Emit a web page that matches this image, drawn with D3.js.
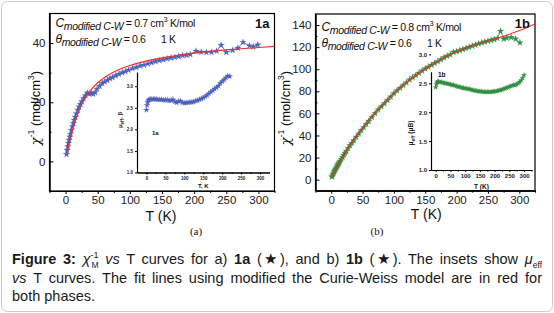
<!DOCTYPE html>
<html>
<head>
<meta charset="utf-8">
<script src="https://cdn.jsdelivr.net/npm/d3@7"></script>
<style>
body { margin: 0; background: #fff; }
#wrap { position: relative; width: 554px; height: 313px; overflow: hidden; font-family: "Liberation Sans", Arial, sans-serif; }
#wrap svg { position: absolute; left: 0; top: 0; }
#caption { position: absolute; left: 12px; top: 250px; width: 530px; font-size: 14.5px; line-height: 18.6px; color: #1a1a1a; }
#caption .j { text-align: justify; text-align-last: justify; white-space: nowrap; height: 18.6px; }
#caption .up { position: relative; top: -6px; font-size: 9px; line-height: 0; }
#caption .dn { position: relative; top: 4px; font-size: 8.5px; line-height: 0; }
</style>
</head>
<body>
<div id="wrap"></div>
<script>
// panel (a) : chi^-1 vs T, stars
var tA = [1.5, 2.5, 3.5, 4.5, 5.5, 6.5, 7.5, 9, 10.5, 12, 13.5, 15, 17, 19, 21, 23, 25, 28, 31, 34, 37, 40, 43, 46, 49,
  53, 57, 61, 65, 69, 73, 78, 83, 88, 93, 98, 104, 110, 116, 122, 128, 134, 140, 146, 152, 158, 164, 170, 176, 182,
  188, 194, 203, 211, 219, 227, 235, 242, 250, 260, 268, 276, 286, 292, 299];
var chiA = [2.4, 3.8, 5, 6.2, 7.2, 8.3, 9.2, 10.5, 11.8, 12.9, 14, 15, 16.2, 17.4, 18.5, 19.3, 20.2, 21.3, 22.3, 23.2,
  22.9, 23, 22.8, 23.3, 24.5, 25.5, 26.4, 26.9, 27.4, 28, 28.4, 29, 29.5, 30, 30.4, 30.9, 31.4, 31.8, 32.3, 32.6, 33,
  33.4, 33.8, 34.1, 34.4, 34.7, 35, 35.2, 35.5, 35.8, 35.9, 36.2, 37.3, 37, 36.9, 36.9, 37.3, 39.3, 36.9, 37.6, 38.3,
  40.3, 39.1, 38.8, 39.4];
// red fit line (a)
var fitTA = [2, 5, 10, 15, 20, 30, 40, 50, 60, 75, 100, 125, 150, 175, 200, 250, 300, 325];
var fitA = [2, 5.8, 10.2, 13.8, 16.8, 21.3, 24.3, 26.6, 28.3, 30.2, 32.4, 33.9, 35, 35.9, 36.6, 37.7, 38.5, 38.9];
// inset (a) : mu_eff vs T
var insTA = [0, 1.5, 3, 5, 7, 10, 14, 18, 22, 26, 30, 35, 40, 45, 50, 55, 60, 65, 70, 75, 80, 85, 90, 95, 100, 105,
  110, 115, 120, 125, 130, 135, 140, 145, 150, 155, 160, 165, 170, 175, 180, 185, 190, 195, 200, 205, 210, 215, 220];
var muA = [2.45, 2.56, 2.63, 2.67, 2.69, 2.7, 2.7, 2.7, 2.7, 2.7, 2.69, 2.69, 2.69, 2.68, 2.68, 2.68, 2.67, 2.67, 2.69,
  2.64, 2.62, 2.65, 2.66, 2.62, 2.61, 2.62, 2.62, 2.63, 2.63, 2.64, 2.66, 2.67, 2.69, 2.71, 2.73, 2.76, 2.79, 2.83,
  2.87, 2.9, 2.94, 2.97, 3.01, 3.07, 3.11, 3.15, 3.2, 3.24, 3.23];

// panel (b)
var tB = [1, 2, 3, 4, 5, 6, 7, 8, 9, 10, 11, 12, 13, 14, 16, 18, 20, 22, 24, 27, 30, 33, 36, 40, 44, 48, 52, 56, 60,
  65, 70, 75, 80, 85, 90, 95, 100, 105, 110, 115, 120, 125, 130, 135, 140, 145, 150, 155, 160, 165, 170, 175, 180,
  185, 190, 195, 200, 205, 210, 215, 220, 225, 230, 235, 240, 245, 250, 255, 260, 265, 270, 275, 280, 287, 294, 301];
var chiB = [2.5, 3.5, 5, 6.3, 7.5, 8.5, 9.6, 10.6, 11.6, 12.7, 13.6, 14.6, 15.5, 16.6, 18.4, 20.3, 22.2, 24, 25.6,
  28.4, 31, 33, 35.4, 38.6, 41.6, 44.6, 47.5, 50.3, 53, 56.5, 60, 63.3, 66.2, 69, 72, 75, 78, 80.6, 83, 85.5, 88,
  90.5, 92.5, 94.5, 96.5, 98.6, 100.5, 102, 103.8, 105.5, 107, 108.8, 110.5, 112, 113.2, 115.5, 116, 117, 118, 119,
  120, 121, 122, 123, 124, 124.8, 125.6, 126.3, 127, 128, 134.5, 127.5, 128.3, 128.8, 127.5, 124];
var fitTB = [0, 10, 25, 50, 75, 100, 125, 150, 175, 200, 225, 250, 270, 300, 325];
var fitB = [2, 12, 27.5, 47, 64, 78.5, 90.5, 100.5, 109, 116, 121.5, 126, 129, 135, 141];
var insTB = [0, 2, 4, 7, 10, 15, 20, 25, 30, 35, 40, 45, 50, 55, 60, 65, 70, 75, 80, 85, 90, 95, 100, 105, 110, 115,
  120, 125, 130, 135, 140, 145, 150, 155, 160, 165, 170, 175, 180, 185, 190, 195, 200, 205, 210, 215, 220, 225, 230,
  235, 240, 245, 250, 255, 260, 265, 270, 275, 280, 285, 290, 295, 300];
var muB = [2.43, 2.48, 2.51, 2.53, 2.53, 2.52, 2.52, 2.51, 2.5, 2.5, 2.49, 2.49, 2.48, 2.47, 2.47, 2.46, 2.45, 2.44,
  2.44, 2.43, 2.42, 2.42, 2.41, 2.41, 2.4, 2.4, 2.39, 2.38, 2.38, 2.37, 2.37, 2.36, 2.36, 2.36, 2.35, 2.35, 2.35,
  2.35, 2.35, 2.35, 2.35, 2.36, 2.36, 2.36, 2.37, 2.38, 2.38, 2.39, 2.4, 2.41, 2.42, 2.43, 2.44, 2.45, 2.46, 2.47,
  2.47, 2.48, 2.5, 2.52, 2.55, 2.59, 2.64];

// tick labels
var xTicks = [0, 50, 100, 150, 200, 250, 300];
var xMinor = [-25, 25, 75, 125, 175, 225, 275, 325];
var yTicksA = [0, 20, 40];
var yTicksB = [0, 20, 40, 60, 80, 100, 120, 140];
var muTicks = [1.0, 1.5, 2.0, 2.5, 3.0];

var blue = "#4a62b8", green = "#2f8f40", red = "#f42a2a";

var svg = d3.select("#wrap").append("svg").attr("width", 554).attr("height", 313);

svg.append("rect")
  .attr("x", 1.5).attr("y", 1.5).attr("width", 551).attr("height", 310).attr("rx", 6)
  .attr("fill", "none").attr("stroke", "#c8c8c8");

function styleAxis(g, fs) {
  g.select(".domain").attr("stroke", "#000");
  g.selectAll(".tick line").attr("stroke", "#000");
  g.selectAll(".tick text").attr("fill", "#222").style("font-size", fs)
    .style("font-family", "'Liberation Sans', Arial, sans-serif");
}

function stars(T, V, x, y, size, color) {
  svg.append("g").selectAll("path")
    .data(d3.zip(T, V))
    .enter()
    .append("path")
    .attr("d", d3.symbol(d3.symbolStar, size))
    .attr("transform", function(d) { return "translate(" + x(d[0]) + "," + y(d[1]) + ")"; })
    .attr("fill", color)
    .attr("stroke", color)
    .attr("stroke-opacity", 0.3)
    .attr("stroke-width", 0.8);
}

function drawMain(p) {
  var x = d3.scaleLinear().domain([-25, 325]).range([p.left, p.right]);
  var y = d3.scaleLinear().domain(p.yDomain).range([p.bottom, p.top]);

  svg.append("rect")
    .attr("x", p.left).attr("y", p.top)
    .attr("width", p.right - p.left).attr("height", p.bottom - p.top)
    .attr("fill", "none").attr("stroke", "#000").attr("stroke-width", 1.2);

  var gx = svg.append("g").attr("transform", "translate(0," + p.bottom + ")")
    .call(d3.axisBottom(x).tickValues(xTicks).tickSize(3).tickSizeOuter(0).tickPadding(2));
  styleAxis(gx, "11.5px");
  var gxm = svg.append("g").attr("transform", "translate(0," + p.bottom + ")")
    .call(d3.axisBottom(x).tickValues(xMinor).tickSize(2).tickSizeOuter(0).tickFormat(""));
  styleAxis(gxm, "11.5px");

  var gy = svg.append("g").attr("transform", "translate(" + p.left + ",0)")
    .call(d3.axisLeft(y).tickValues(p.yTicks).tickSize(-4).tickSizeOuter(0).tickPadding(4));
  styleAxis(gy, "11.5px");
  var gym = svg.append("g").attr("transform", "translate(" + p.left + ",0)")
    .call(d3.axisLeft(y).tickValues(p.yMinor).tickSize(-2).tickSizeOuter(0).tickFormat(""));
  styleAxis(gym, "11.5px");

  // data line + stars + fit
  svg.append("path")
    .datum(d3.zip(p.T, p.V))
    .attr("d", d3.line().x(function(d) { return x(d[0]); }).y(function(d) { return y(d[1]); }))
    .attr("fill", "none").attr("stroke", blue).attr("stroke-width", 0.8);
  stars(p.T, p.V, x, y, 13, p.color);
  svg.append("path")
    .datum(d3.zip(p.fitT, p.fitV))
    .attr("d", d3.line().curve(d3.curveMonotoneX).x(function(d) { return x(d[0]); }).y(function(d) { return y(d[1]); }))
    .attr("fill", "none").attr("stroke", red).attr("stroke-width", 1.1);

  // axis titles
  svg.append("text")
    .attr("x", (p.left + p.right) / 2 + p.titleShift).attr("y", p.titleY)
    .attr("text-anchor", "middle").style("font-size", "14px").attr("fill", "#111")
    .text("T (K)");

  var yt = svg.append("text")
    .attr("transform", "translate(" + p.ytX + "," + p.ytY + ") rotate(-90)")
    .attr("text-anchor", "middle").style("font-size", "13px").attr("fill", "#111");
  yt.append("tspan").style("font-style", "italic").style("font-family", "'DejaVu Serif', serif").text("χ");
  yt.append("tspan").style("font-size", "8.5px").attr("dy", -6).text("-1");
  yt.append("tspan").attr("dy", 6).text(" (mol/cm");
  yt.append("tspan").style("font-size", "8.5px").attr("dy", -6).text("3");
  yt.append("tspan").attr("dy", 6).text(")");

  // panel tag
  svg.append("text")
    .attr("x", p.right - 5).attr("y", p.top + 14)
    .attr("text-anchor", "end").style("font-size", "13px").style("font-weight", "bold").attr("fill", "#111")
    .text(p.tag);

  // fit parameters
  var t1 = svg.append("text").attr("x", p.left + 6).attr("y", p.annY).style("font-size", "10.5px")
    .style("letter-spacing", "-0.35px").attr("fill", "#111");
  t1.append("tspan").style("font-style", "italic").style("font-size", "12px").text("C");
  t1.append("tspan").style("font-style", "italic").attr("dy", 3).text("modified C-W");
  t1.append("tspan").attr("dy", -3).text(" = " + p.cVal + " cm");
  t1.append("tspan").style("font-size", "7.5px").attr("dy", -5).text("3");
  t1.append("tspan").attr("dy", 5).text(" K/mol");

  var t2 = svg.append("text").attr("x", p.left + 6).attr("y", p.annY + 16).style("font-size", "10.5px")
    .style("letter-spacing", "-0.35px").attr("fill", "#111");
  t2.append("tspan").style("font-style", "italic").style("font-size", "12px").text("θ");
  t2.append("tspan").style("font-style", "italic").attr("dy", 3).text("modified C-W");
  t2.append("tspan").attr("dy", -3).attr("xml:space", "preserve").text(" = 0.6      1 K");

  // (a) / (b)
  svg.append("text")
    .attr("x", p.subX).attr("y", 235)
    .attr("text-anchor", "middle").style("font-size", "11px")
    .style("font-family", "'Liberation Serif', 'Times New Roman', serif").attr("fill", "#111")
    .text(p.sub);
}

function drawInset(p) {
  var x = d3.scaleLinear().domain(p.xDomain).range([p.left, p.right]);
  var y = d3.scaleLinear().domain(p.yDomain).range([p.bottom, p.top]);

  var gx = svg.append("g").attr("transform", "translate(0," + p.bottom + ")")
    .call(d3.axisBottom(x).tickValues(xTicks).tickSize(2).tickSizeOuter(0).tickPadding(2));
  styleAxis(gx, p.fs);
  var gxm = svg.append("g").attr("transform", "translate(0," + p.bottom + ")")
    .call(d3.axisBottom(x).tickValues(xMinor.filter(function(v) { return v > p.xDomain[0] && v < p.xDomain[1]; }))
      .tickSize(1.5).tickSizeOuter(0).tickFormat(""));
  styleAxis(gxm, p.fs);
  var gy = svg.append("g").attr("transform", "translate(" + p.left + ",0)")
    .call(d3.axisLeft(y).tickValues(muTicks).tickSize(2).tickSizeOuter(0).tickPadding(2).tickFormat(d3.format(".1f")));
  styleAxis(gy, p.fs);
  gx.selectAll(".tick text").style("font-weight", "bold");
  gy.selectAll(".tick text").style("font-weight", "bold");
  gx.select(".domain").attr("stroke-width", 1.2);
  gy.select(".domain").attr("stroke-width", 1.2);

  stars(p.T, p.V, x, y, p.size, p.color);

  svg.append("text")
    .attr("x", (p.left + p.right) / 2).attr("y", p.bottom + p.xtDy)
    .attr("text-anchor", "middle").style("font-size", p.tfs).style("font-weight", "bold").attr("fill", "#111")
    .text(p.xTitle);

  var yt = svg.append("text")
    .attr("transform", "translate(" + p.ytX + "," + p.ytY + ") rotate(-90)")
    .attr("text-anchor", "middle").style("font-size", p.tfs).style("font-weight", "bold").attr("fill", "#111");
  yt.append("tspan").text("μ");
  yt.append("tspan").attr("dy", 1.5).style("font-size", "0.75em").text("eff");
  yt.append("tspan").attr("dy", -1.5).text(p.yTail);

  svg.append("text")
    .attr("x", p.tagX).attr("y", p.tagY)
    .style("font-size", p.tfs).style("font-weight", "bold").attr("fill", "#111")
    .text(p.tag);
}

drawMain({
  left: 49.5, right: 274.5, top: 13.5, bottom: 191,
  yDomain: [-10, 50], yTicks: yTicksA, yMinor: [10, 30],
  T: tA, V: chiA, fitT: fitTA, fitV: fitA, color: blue,
  titleY: 221, titleShift: -1, ytX: 40, ytY: 108, tag: "1a", annY: 27, cVal: "0.7",
  sub: "(a)", subX: 196
});
drawMain({
  left: 315.5, right: 535, top: 14, bottom: 190.7,
  yDomain: [-10, 150], yTicks: yTicksB, yMinor: [10, 30, 50, 70, 90, 110, 130],
  T: tB, V: chiB, fitT: fitTB, fitV: fitB, color: green,
  titleY: 219, titleShift: 1, ytX: 290, ytY: 108, tag: "1b", annY: 31, cVal: "0.8",
  sub: "(b)", subX: 377
});

drawInset({
  left: 137, right: 269.5, top: 72, bottom: 172.5,
  xDomain: [-25, 325], yDomain: [1.0, 3.33],
  T: insTA, V: muA, color: blue, size: 10, fs: "4.5px", tfs: "6px",
  xTitle: "T, K", xtDy: 15, yTail: ", β", ytX: 122, ytY: 120,
  tag: "1a", tagX: 152, tagY: 135
});
drawInset({
  left: 431, right: 532, top: 71.7, bottom: 170,
  xDomain: [-16, 327], yDomain: [1.0, 2.7],
  T: insTB, V: muB, color: green, size: 8, fs: "6px", tfs: "6.5px",
  xTitle: "T (K)", xtDy: 19, yTail: " (μB)", ytX: 413, ytY: 133,
  tag: "1b", tagX: 438, tagY: 77
});

// caption
var cap = d3.select("#wrap").append("div").attr("id", "caption");
cap.append("div").attr("class", "j")
  .html("<b>Figure 3:</b> <i>χ</i><span class='up'>-1</span><span class='dn' style='margin-left:-7px'>M</span> <i>vs</i> T curves for a) <b>1a</b> (★), and b) <b>1b</b> (★). The insets show <i>μ</i><span class='dn'>eff</span>");
cap.append("div").attr("class", "j")
  .html("<i>vs</i> T curves. The fit lines using modified the Curie-Weiss model are in red for");
cap.append("div").text("both phases.");
</script>
</body>
</html>
